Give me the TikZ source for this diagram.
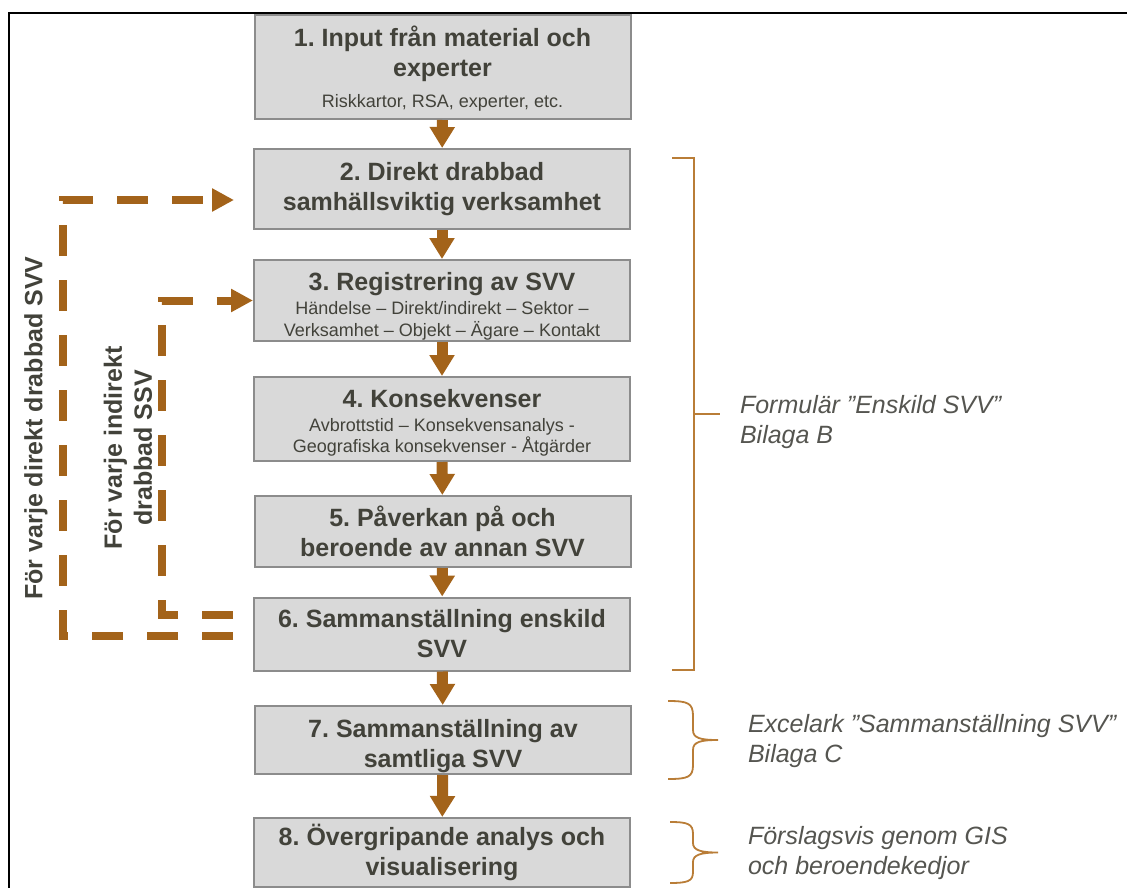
\documentclass[tikz,border=0pt]{standalone}
\usepackage{fontspec}
\setmainfont{Liberation Sans}
\usetikzlibrary{arrows.meta}
\definecolor{boxfill}{HTML}{D9D9D9}
\definecolor{boxline}{HTML}{8C8C8C}
\definecolor{txtgray}{RGB}{66,66,58}
\definecolor{arrowbrown}{RGB}{163,99,26}
\definecolor{bracebrown}{RGB}{185,125,55}
\definecolor{labelgray}{RGB}{85,85,80}
\newcommand\subtxt[1]{{\fontsize{18}{21}\selectfont\mdseries #1}}
\newcommand\topstrut[1]{\rule{0pt}{#1}}
\frenchspacing
\begin{document}
\frenchspacing
\begin{tikzpicture}[x=1pt,y=-1pt,
  stepbox/.style={draw=boxline, line width=2pt, fill=boxfill, minimum width=376pt,
    inner sep=0pt, align=center, text=txtgray, font=\fontsize{25}{30}\selectfont\bfseries},
  flow/.style={draw=arrowbrown, line width=11pt, -{Triangle[length=21pt,width=24pt]}},
  loopline/.style={draw=arrowbrown, line width=8pt, dash pattern=on 31pt off 24pt,
    -{Triangle[length=22pt,width=22pt]}},
  bracket/.style={draw=bracebrown, line width=1.8pt},
  note/.style={anchor=west, align=left, text=labelgray, font=\fontsize{25}{30}\selectfont\itshape},
  sidelabel/.style={rotate=90, align=center, text=txtgray, font=\fontsize{25}{30}\selectfont\bfseries}]
\useasboundingbox (0,0) rectangle (1127,888);
% frame
\draw[line width=2.5pt] (1127,13) -- (9,13) -- (9,888);
% boxes
\node[stepbox, minimum height=104pt] (b1) at (442.5,67) {\topstrut{22.8pt}1. Input från material och\\experter\\[1pt]\subtxt{Riskkartor, RSA, experter, etc.}};
\node[stepbox, minimum height=80pt] (b2) at (442,189) {2. Direkt drabbad\\samhällsviktig verksamhet};
\node[stepbox, minimum height=81pt] (b3) at (442,300.5) {\topstrut{30.7pt}3. Registrering av SVV\\[-6pt]\subtxt{Händelse – Direkt/indirekt – Sektor –}\\[-8pt]\subtxt{Verksamhet – Objekt – Ägare – Kontakt}};
\node[stepbox, minimum height=84pt] (b4) at (442,419) {\topstrut{24.8pt}4. Konsekvenser\\[-6pt]\subtxt{Avbrottstid – Konsekvensanalys -}\\[-9pt]\subtxt{Geografiska konsekvenser - Åtgärder}};
\node[stepbox, minimum height=71pt] (b5) at (442.5,531.5) {\topstrut{21pt}5. Påverkan på och\\beroende av annan SVV};
\node[stepbox, minimum height=73pt] (b6) at (442,634) {6. Sammanställning enskild\\SVV};
\node[stepbox, minimum height=68pt] (b7) at (443,740) {\topstrut{29.5pt}7. Sammanställning av\\samtliga SVV};
\node[stepbox, minimum height=69pt] (b8) at (442,852.5) {8. Övergripande analys och\\visualisering};
% flow arrows
\draw[flow] (b1) -- (b2);
\draw[flow] (b2) -- (b3);
\draw[flow] (b3) -- (b4);
\draw[flow] (b4) -- (b5);
\draw[flow] (b5) -- (b6);
\draw[flow] (b6) -- (b7);
\draw[flow] (b7) -- (b8);
% loops
\draw[loopline] ([xshift=-20pt,yshift=-2pt]b6.west) -- ++(-170pt,0) |- ([xshift=-19pt,yshift=-11pt]b2.west);
\draw[loopline] ([xshift=-20pt,yshift=19pt]b6.west) -- ++(-71pt,0) |- (b3.west);
% side labels
\node[sidelabel] (lblA) at (36,428) {För varje direkt drabbad SVV};
\node[sidelabel] (lblB) at (128,448) {För varje indirekt\\drabbad SSV};
% brackets
\draw[bracket] (672,158) -- (694,158) -- (694,670) -- (672,670);
\draw[bracket] (694,414) -- (720,414);
\draw[bracket] (668,701) .. controls (688,701) and (693,703) .. (693,716) -- (693,730)
  .. controls (693,738) and (700,740) .. (718,740)
  .. controls (700,740) and (693,742) .. (693,750) -- (693,765)
  .. controls (693,777) and (688,779) .. (668,779);
\draw[bracket] (670,822) .. controls (688,822) and (693,824) .. (693,834) -- (693,843)
  .. controls (693,850) and (700,852.5) .. (718,852.5)
  .. controls (700,852.5) and (693,855) .. (693,862) -- (693,872)
  .. controls (693,881) and (688,883) .. (670,883);
% notes
\node[note] (nB) at (736.5,422.5) {Formulär ”Enskild SVV”\\Bilaga B};
\node[note] (nC) at (744.5,741) {Excelark ”Sammanställning SVV”\\Bilaga C};
\node[note] (nD) at (744.5,853) {Förslagsvis genom GIS\\och beroendekedjor};
\end{tikzpicture}
\end{document}
